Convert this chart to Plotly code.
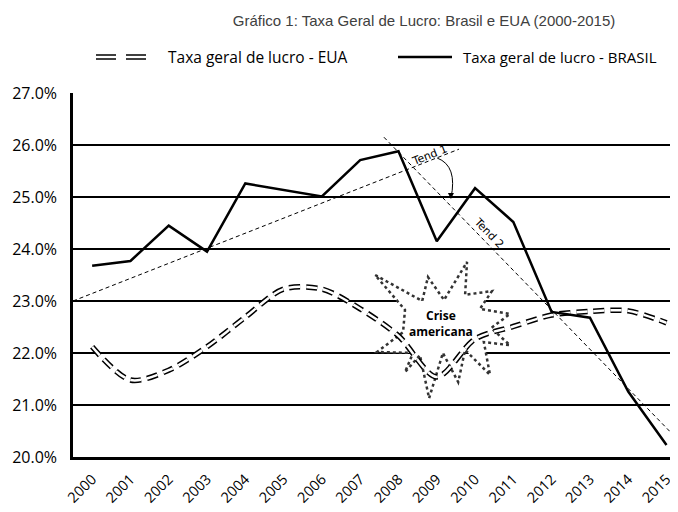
import plotly.graph_objects as go

years = [str(y) for y in range(2000, 2016)]
brasil = [23.68, 23.77, 24.45, 23.95, 25.26, 25.13, 25.01, 25.71, 25.88, 24.15,
          25.17, 24.52, 22.79, 22.68, 21.26, 20.23]
eua = [22.12, 21.48, 21.67, 22.12, 22.69, 23.23, 23.23, 22.85, 22.33, 21.54,
       22.27, 22.51, 22.73, 22.80, 22.81, 22.58]

title = "Gráfico 1: Taxa Geral de Lucro: Brasil e EUA (2000-2015)"
leg_eua = "Taxa geral de lucro - EUA"
leg_br = "Taxa geral de lucro - BRASIL"

# trend lines (index coords, value)
tend1_x = [-0.5, 9.58]
tend1_y = [23.0, 25.92]
tend2_x = [7.62, 15.3]
tend2_y = [26.15, 20.33]

# starburst outline (index coords, value)
star_x = [7.39, 8.62, 8.77, 9.19, 9.79, 9.74, 10.44, 10.13, 10.91, 10.42, 10.91, 10.23,
          10.39, 9.74, 9.56, 9.16, 8.80, 8.56, 8.17, 8.38, 7.44, 8.12, 8.17]
star_y = [23.50, 23.00, 23.46, 23.02, 23.75, 23.12, 23.19, 22.85, 22.75, 22.48, 22.15, 22.21,
          21.58, 22.06, 21.44, 22.00, 21.13, 21.96, 21.63, 22.00, 22.02, 22.40, 22.83]

xi = list(range(len(years)))
fig = go.Figure()

DASH = "11px,6px"
fig.add_trace(go.Scatter(x=xi, y=eua, mode="lines",
                         line=dict(color="black", width=5.5, dash=DASH, shape="spline", smoothing=0.85),
                         showlegend=False, hoverinfo="skip"))
fig.add_trace(go.Scatter(x=xi, y=eua, mode="lines",
                         line=dict(color="white", width=2.5, dash=DASH, shape="spline", smoothing=0.85),
                         showlegend=False, hoverinfo="skip"))
fig.add_trace(go.Scatter(x=xi, y=brasil, mode="lines", line=dict(color="black", width=2.5),
                         showlegend=False))
fig.add_trace(go.Scatter(x=tend1_x, y=tend1_y, mode="lines", line=dict(color="black", width=1, dash="4px,3px"),
                         showlegend=False, hoverinfo="skip"))
fig.add_trace(go.Scatter(x=tend2_x, y=tend2_y, mode="lines", line=dict(color="black", width=1, dash="4px,3px"),
                         showlegend=False, hoverinfo="skip"))

path = "M " + " L ".join(f"{a},{b}" for a, b in zip(star_x, star_y)) + " Z"

# page body has an 8px margin: the figure starts at (8, 8) in the window.
OFF = 8
W, H = 678 - OFF, 512 - OFF
L, T, B = 73 - OFF, 93 - OFF, 512 - 457


def px(xp):
    return (xp - 73) / 605.0


LY = (457 - 57) / 364.0

shapes = [
    dict(type="path", path=path, xref="x", yref="y", layer="between",
         fillcolor="white", line=dict(color="#333", width=2.5, dash="dot")),
    # curved arrow
    dict(type="path", path="M 9.01,25.75 Q 9.55,25.6 9.37,24.98", xref="x", yref="y",
         line=dict(color="black", width=1)),
    # legend symbols
    dict(type="line", xref="paper", yref="paper", x0=px(96), x1=px(150), y0=LY, y1=LY,
         line=dict(color="black", width=5.5, dash="20px,10px")),
    dict(type="line", xref="paper", yref="paper", x0=px(96), x1=px(150), y0=LY, y1=LY,
         line=dict(color="white", width=2.5, dash="20px,10px")),
    dict(type="line", xref="paper", yref="paper", x0=px(398), x1=px(452), y0=LY, y1=LY,
         line=dict(color="black", width=2.5)),
]

annotations = [
    dict(x=9.37, y=24.96, ax=0, ay=-6, xref="x", yref="y", text="", showarrow=True,
         arrowhead=2, arrowsize=1.2, arrowwidth=1, arrowcolor="black"),
    dict(x=8.8, y=25.8, xref="x", yref="y", text="Tend 1", showarrow=False, textangle=-21.5,
         font=dict(family="DejaVu Sans", size=11, color="black")),
    dict(x=10.34, y=24.31, xref="x", yref="y", text="Tend 2", showarrow=False, textangle=46,
         font=dict(family="DejaVu Sans", size=11, color="black")),
    dict(x=9.11, y=22.57, xref="x", yref="y", text="<b>Crise<br>americana</b>", showarrow=False,
         font=dict(family="Open Sans", size=12, color="black")),
    dict(x=px(166), y=LY, xref="paper", yref="paper", text=leg_eua, showarrow=False,
         xanchor="left", yanchor="middle",
         font=dict(family="Open Sans", size=15.5, color="black")),
    dict(x=px(461), y=LY, xref="paper", yref="paper", text=leg_br, showarrow=False,
         xanchor="left", yanchor="middle",
         font=dict(family="Open Sans", size=15, color="black")),
]

fig.update_layout(
    width=W, height=H,
    margin=dict(l=L, r=0, t=T, b=B),
    paper_bgcolor="white", plot_bgcolor="white",
    title=dict(text=title, x=0.621, xanchor="center", y=0.985, yanchor="top",
               font=dict(family="Liberation Sans", size=15, color="#404040")),
    shapes=shapes, annotations=annotations, showlegend=False,
    xaxis=dict(range=[-0.5, 15.3], tickvals=xi, ticktext=years, tickangle=-45,
               showgrid=False, zeroline=False, showline=True, linecolor="black", linewidth=3,
               ticks="", ticklabelstandoff=5, automargin=False,
               tickfont=dict(family="Open Sans", size=14.5, color="black")),
    yaxis=dict(range=[20, 27], dtick=1, tickformat=".1f", ticksuffix="%",
               showgrid=True, gridcolor="black", gridwidth=1.5, zeroline=False,
               showline=True, linecolor="black", linewidth=2.5, ticks="", ticklabelstandoff=10,
               automargin=False,
               tickfont=dict(family="Open Sans", size=16, color="black")),
)

fig.write_html("out.html")
